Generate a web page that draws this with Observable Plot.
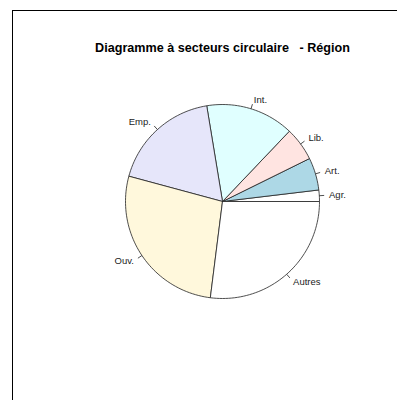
<!DOCTYPE html>
<html>
<head>
<meta charset="utf-8">
<script src="https://cdn.jsdelivr.net/npm/d3@7"></script>
<script src="https://cdn.jsdelivr.net/npm/@observablehq/plot@0.6"></script>
<style>
  html, body { margin: 0; padding: 0; background: white; }
  #wrap { position: relative; width: 397px; height: 400px; overflow: hidden; }
  #wrap svg { position: absolute; left: 0; top: 0; }
  #border { position: absolute; left: 12px; top: 10px; width: 400px; height: 400px;
            border-left: 1px solid black; border-top: 1px solid black; pointer-events: none; }
</style>
</head>
<body>
<div id="wrap"><div id="border"></div></div>
<script>
const title = "Diagramme à secteurs circulaire   - Région";
const labels = ["Agr.", "Art.", "Lib.", "Int.", "Emp.", "Ouv.", "Autres"];
const values = [1.9, 5.4, 5.6, 14.7, 18.2, 27.2, 27.0];
const colors = ["white", "lightblue", "mistyrose", "lightcyan", "lavender", "cornsilk", "white"];

const total = d3.sum(values);
const slices = [];
let acc = 0;
values.forEach((v, i) => {
  const a0 = 2 * Math.PI * acc / total;
  acc += v;
  const a1 = 2 * Math.PI * acc / total;
  slices.push({label: labels[i], color: colors[i], a0, a1, mid: (a0 + a1) / 2});
});

const pts = [];
for (const s of slices) {
  const n = Math.max(2, Math.floor(200 * (s.a1 - s.a0) / (2 * Math.PI)));
  pts.push({slice: s.label, color: s.color, x: 0, y: 0});
  for (let k = 0; k <= n; k++) {
    const t = s.a0 + (s.a1 - s.a0) * k / n;
    pts.push({slice: s.label, color: s.color, x: Math.cos(t), y: Math.sin(t)});
  }
  pts.push({slice: s.label, color: s.color, x: 0, y: 0});
}

const lab = slices.map(s => ({
  label: s.label,
  x1: Math.cos(s.mid), y1: Math.sin(s.mid),
  x2: 1.05 * Math.cos(s.mid), y2: 1.05 * Math.sin(s.mid),
  tx: 1.1 * Math.cos(s.mid), ty: 1.1 * Math.sin(s.mid),
  right: Math.cos(s.mid) > 0
}));

const R = 97, cx = 222, cy = 201, W = 397, H = 400;
const font = "'Liberation Sans', Arial, sans-serif";

const chart = Plot.plot({
  width: W, height: H,
  margin: 0,
  x: {domain: [-cx / R, (W - cx) / R], axis: null},
  y: {domain: [-(H - cy) / R, cy / R], axis: null},
  style: {fontFamily: font, background: "white"},
  marks: [
    Plot.line(pts, {x: "x", y: "y", z: "slice", fill: "color", stroke: "#222", strokeWidth: 0.8, curve: "linear"}),
    Plot.link(lab, {x1: "x1", y1: "y1", x2: "x2", y2: "y2", stroke: "#222", strokeWidth: 0.8}),
    Plot.text(lab.filter(d => d.right), {x: "tx", y: "ty", text: "label", textAnchor: "start", fontSize: 9.5, fill: "#222"}),
    Plot.text(lab.filter(d => !d.right), {x: "tx", y: "ty", text: "label", textAnchor: "end", fontSize: 9.5, fill: "#222"}),
    Plot.text([title], {x: () => 0, y: () => (cy - 47) / R, text: d => d, fontSize: 12.6, fontWeight: "bold", fill: "black"})
  ]
});
document.getElementById("wrap").prepend(chart);
</script>
</body>
</html>
